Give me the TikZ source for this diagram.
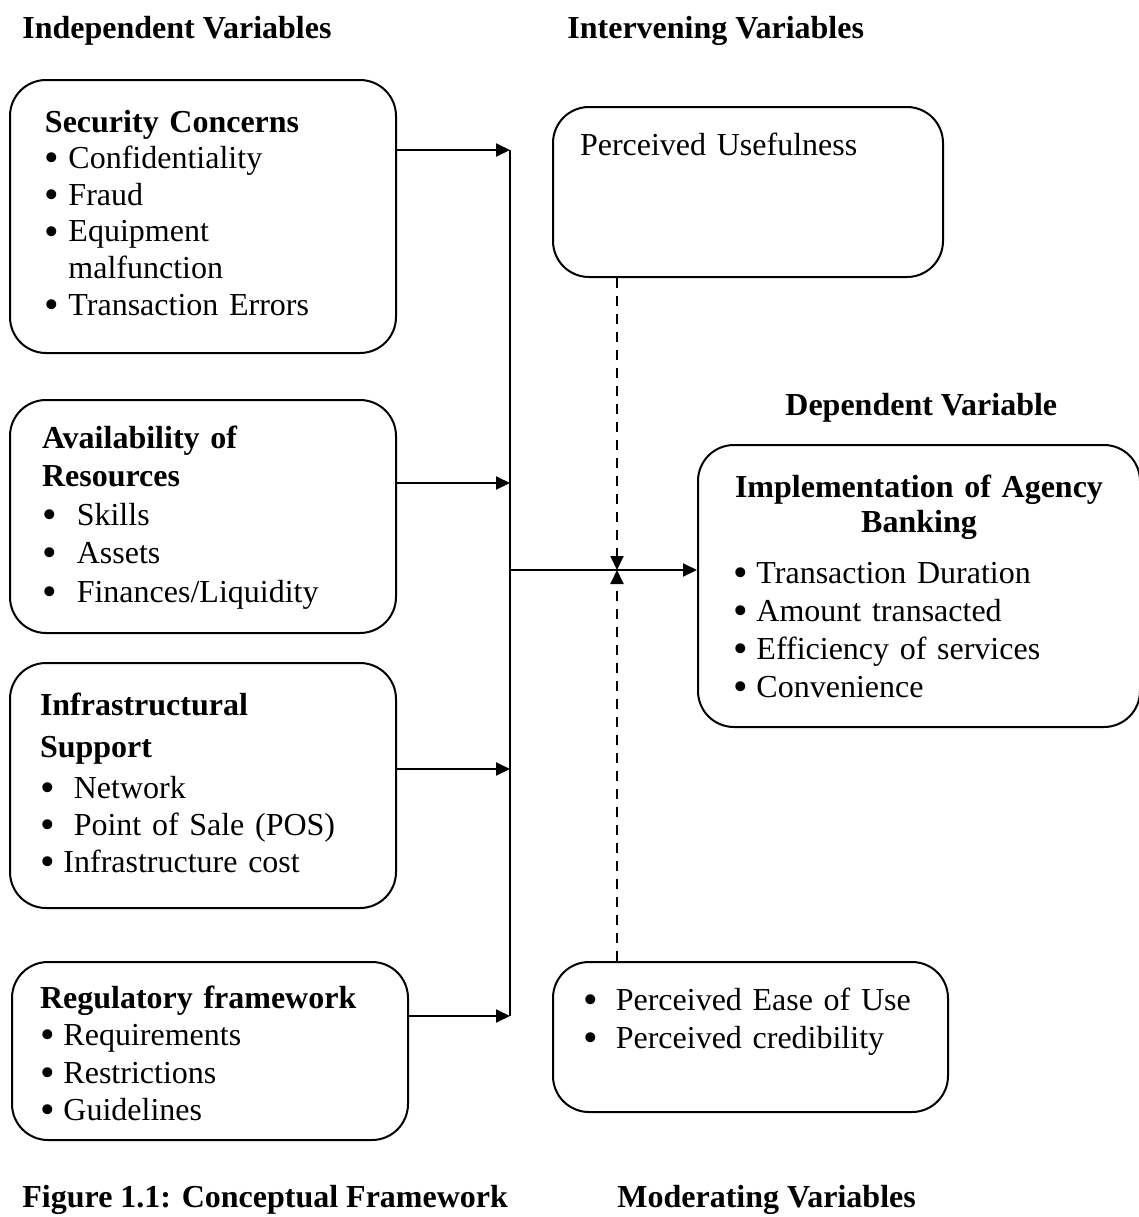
\documentclass[tikz,border=0pt]{standalone}
\usepackage{fontspec}
\usepackage{graphicx}
\setmainfont{Liberation Serif}
\usetikzlibrary{arrows.meta}
\newcommand{\bul}{\makebox[0.4em][l]{\raisebox{-0.1em}[0.5em][0pt]{\scalebox{1.3}{\textbullet}}}}

\begin{document}
\begin{tikzpicture}[x=0.5pt,y=-0.5pt,
  every node/.style={font=\fontsize{16pt}{18.3pt}\selectfont},
  varbox/.style={draw,line width=1pt,rounded corners=18pt,align=left,inner xsep=0pt,inner ysep=0pt},
  head/.style={anchor=base west,inner sep=0pt,font=\fontsize{16pt}{18pt}\selectfont\bfseries},
  link/.style={line width=1pt,-{Triangle[length=7pt,width=6.5pt]}},
  modlink/.style={link,dash pattern=on 5pt off 4pt}]
  \useasboundingbox (0,0) rectangle (1139,1217);

  \node[head] (indep) at (22,38) {Independent Variables};
  \node[head] (interv) at (567,38) {Intervening Variables};
  \node[head] (dep) at (785,415) {Dependent Variable};
  \node[head] (caption) at (22,1207) {Figure 1.1: Conceptual Framework};
  \node[head] (moder) at (617,1207) {Moderating Variables};

  \node[varbox,minimum width=193pt,text width=158pt,text height=26pt,text depth=110.5pt] (sec) at (203,216.5)
    {\textbf{Security Concerns}\\ \bul\ Confidentiality\\ \bul\ Fraud\\ \bul\ Equipment\\ \phantom{\bul}\ malfunction\\ \bul\ Transaction Errors};
  \node[varbox,minimum width=193pt,text width=161pt,text height=24pt,text depth=92.5pt,font=\fontsize{16pt}{19.25pt}\selectfont] (res) at (203,516.5)
    {\textbf{Availability of}\\ \textbf{Resources}\\ \bul\hspace{11pt}Skills\\ \bul\hspace{11pt}Assets\\ \bul\hspace{11pt}Finances/Liquidity};
  \node[varbox,minimum width=193pt,text width=163pt,text height=26pt,text depth=96.5pt,font=\fontsize{16pt}{18.5pt}\selectfont] (infra) at (203,785.5)
    {\textbf{Infrastructural}\\[2.5pt] \textbf{Support}\\[2pt] \bul\hspace{10.5pt}Network\\ \bul\hspace{10.5pt}Point of Sale (POS)\\ \bul\ Infrastructure cost};
  \node[varbox,minimum width=198pt,text width=170pt,text height=23pt,text depth=66pt,font=\fontsize{16pt}{18.75pt}\selectfont] (reg) at (210,1051)
    {\textbf{Regulatory framework}\\ \bul\ Requirements\\ \bul\ Restrictions\\ \bul\ Guidelines};

  \node[varbox,minimum width=195pt,text width=168pt,text height=24pt,text depth=61pt] (use) at (748,192)
    {Perceived Usefulness};
  \node[varbox,minimum width=197.5pt,text width=167.5pt,text height=24pt,text depth=51pt,font=\fontsize{16pt}{19pt}\selectfont] (ease) at (750.5,1037)
    {\bul\hspace{10pt}Perceived Ease of Use\\ \bul\hspace{10pt}Perceived credibility};
  \node[varbox,minimum width=221pt,text width=186pt,text height=26pt,text depth=115pt,font=\fontsize{16pt}{19pt}\selectfont] (agency) at (919,586)
    {\makebox[\linewidth]{\bfseries Implementation of Agency}\\[-1.5pt] \makebox[\linewidth]{\bfseries Banking}\\[6.5pt] \bul\ Transaction Duration\\ \bul\ Amount transacted\\ \bul\ Efficiency of services\\ \bul\ Convenience};

  \coordinate (t1) at (510,150);
  \coordinate (t2) at (510,483);
  \coordinate (t3) at (510,769);
  \coordinate (t4) at (510,1016);
  \coordinate (j) at (510,570);
  \coordinate (m) at (617,570);

  \draw[line width=1pt] (t1) -- (t4);
  \draw[link] (sec.east |- t1) -- (t1);
  \draw[link] (res.east |- t2) -- (t2);
  \draw[link] (infra.east |- t3) -- (t3);
  \draw[link] (reg.east |- t4) -- (t4);
  \draw[link] (j) -- (agency.west |- j);
  \draw[modlink] (use.south -| m) -- (m);
  \draw[modlink] (ease.north -| m) -- (m);
\end{tikzpicture}
\end{document}
